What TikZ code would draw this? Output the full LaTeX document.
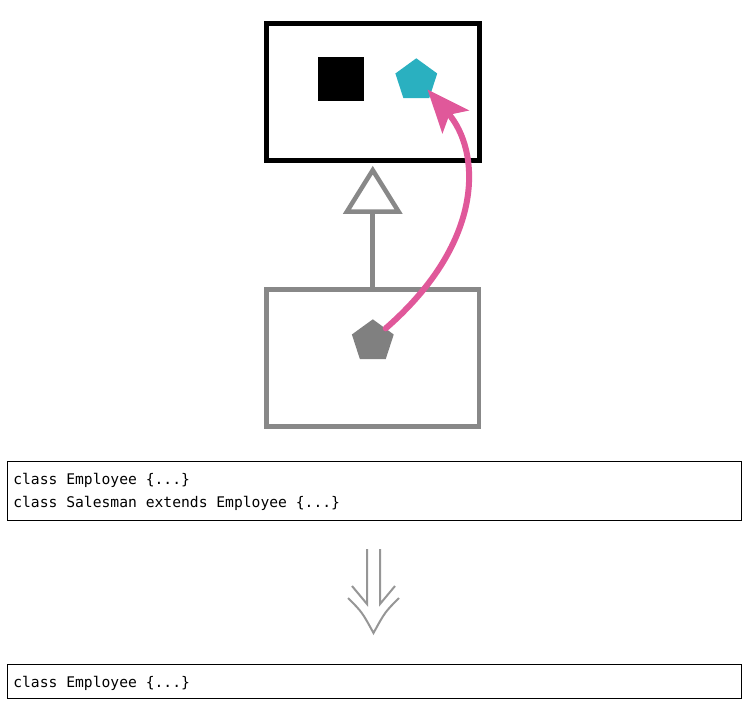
\documentclass[tikz,border=0pt]{standalone}
\usepackage{fontspec}
\setmonofont{DejaVu Sans Mono}
\usetikzlibrary{arrows.meta,shapes.geometric}
\definecolor{umlgray}{RGB}{136,136,136}
\definecolor{pentgray}{RGB}{128,128,128}
\definecolor{pentcyan}{RGB}{42,176,192}
\definecolor{movepink}{RGB}{224,88,154}
\definecolor{arrowgray}{RGB}{150,150,150}
\newcommand\codefont{\ttfamily\fontsize{11}{17.4}\selectfont}
\newcommand\codespaces{\spaceskip=\fontcharwd\font`a\relax\xspaceskip=\spaceskip}
\tikzset{
 classbox/.style={draw,minimum width=159.6pt,minimum height=103pt,inner sep=0pt},
 pent/.style={regular polygon,regular polygon sides=5,minimum size=33pt,inner sep=0pt},
 codebox/.style={draw,line width=0.75pt,minimum width=550.5pt,text width=541pt,align=left,inner xsep=4.5pt,font=\codefont,execute at begin node=\codespaces}
}
\begin{document}
\begin{tikzpicture}[x=0.75pt,y=-0.75pt]
\useasboundingbox(0,0)rectangle(748,702);
\node[classbox,line width=3.75pt](superclass)at(372.75,92){};
\node[classbox,draw=umlgray,line width=3.4pt](subclass)at(372.75,358){};
\node[fill=black,minimum width=35pt,minimum height=33pt,inner sep=0pt](field)at(341,79){};
\node[pent,fill=pentcyan](pulled)at(416.3,80.3){};
\node[pent,fill=pentgray](pushed)at(372.8,341.3){};
\draw[umlgray,line width=3.4pt,shorten >=2pt,-{Triangle[open,length=36pt,width=44pt]}](subclass.north)--(superclass.south);
\draw[movepink,line width=4.5pt,line cap=round,shorten >=-4pt,-{Stealth[length=32pt,width=26pt,inset=7pt]}](pushed.45)..controls(487,240)and(480,150)..(pulled.-42);
\draw[arrowgray,line width=1.5pt](352,586)--(367,604)--(367,549)(395,586)--(380,604)--(380,549);
\draw[arrowgray,line width=1.5pt](348,598)..controls(362,612)..(373.5,633)..controls(385,612)..(399,598);
\node[codebox,minimum height=44.25pt](before)at(374,490.5){\rule{0pt}{10pt}class Employee \{...\}\\class Salesman extends Employee \{...\}};
\node[codebox,minimum height=25.5pt](after)at(374,681){\rule{0pt}{12pt}class Employee \{...\}};
\end{tikzpicture}
\end{document}
